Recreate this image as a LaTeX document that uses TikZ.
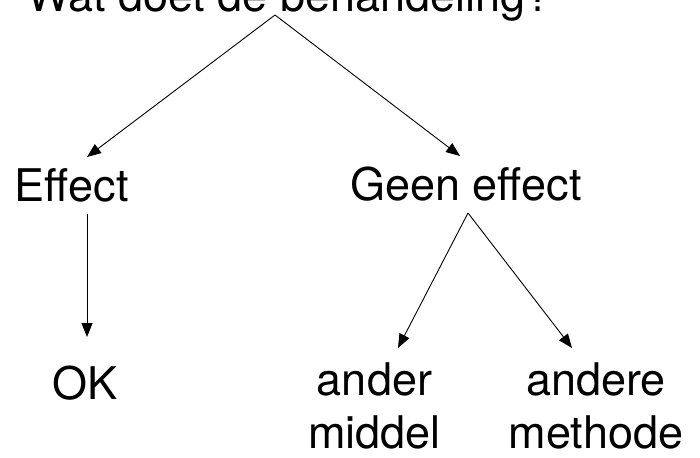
\documentclass[tikz,border=0pt]{standalone}
\usepackage{fontspec}
\setmainfont{TeX Gyre Heros}
\usetikzlibrary{arrows.meta}
\begin{document}
\begin{tikzpicture}[x=1pt,y=-1pt,
  lbl/.style={inner sep=0pt, font=\fontsize{45}{53}\selectfont, text=black},
  arr/.style={draw=black, line width=0.9pt, -{Triangle[length=14pt,width=11pt]}}]
\useasboundingbox (0,0) rectangle (700,457);
\clip (0,0) rectangle (700,457);
\node[lbl, anchor=base] (q) at (289,12) {Wat doet de behandeling?};
\node[lbl, anchor=base] (eff) at (71.5,201) {Effect};
\node[lbl, anchor=base] (geen) at (466,200) {Geen effect};
\node[lbl, anchor=base] (ok) at (85.5,399) {OK};
\node[lbl, anchor=base] (am1) at (374.5,395) {ander};
\node[lbl, anchor=base] (am2) at (374.5,448) {middel};
\node[lbl, anchor=base] (ad1) at (596,395) {andere};
\node[lbl, anchor=base] (ad2) at (596,448) {methode};
\coordinate (qs) at (275,15);
\coordinate (gs) at (468,213);
\coordinate (es) at (87,214);
\coordinate (efft) at (87,157);
\coordinate (geent) at (460,156);
\coordinate (okt) at (87,337);
\coordinate (amt) at (398,348);
\coordinate (adt) at (572,348);
\draw[arr] (qs) -- (efft);
\draw[arr] (qs) -- (geent);
\draw[arr] (es) -- (okt);
\draw[arr] (gs) -- (amt);
\draw[arr] (gs) -- (adt);
\end{tikzpicture}
\end{document}
